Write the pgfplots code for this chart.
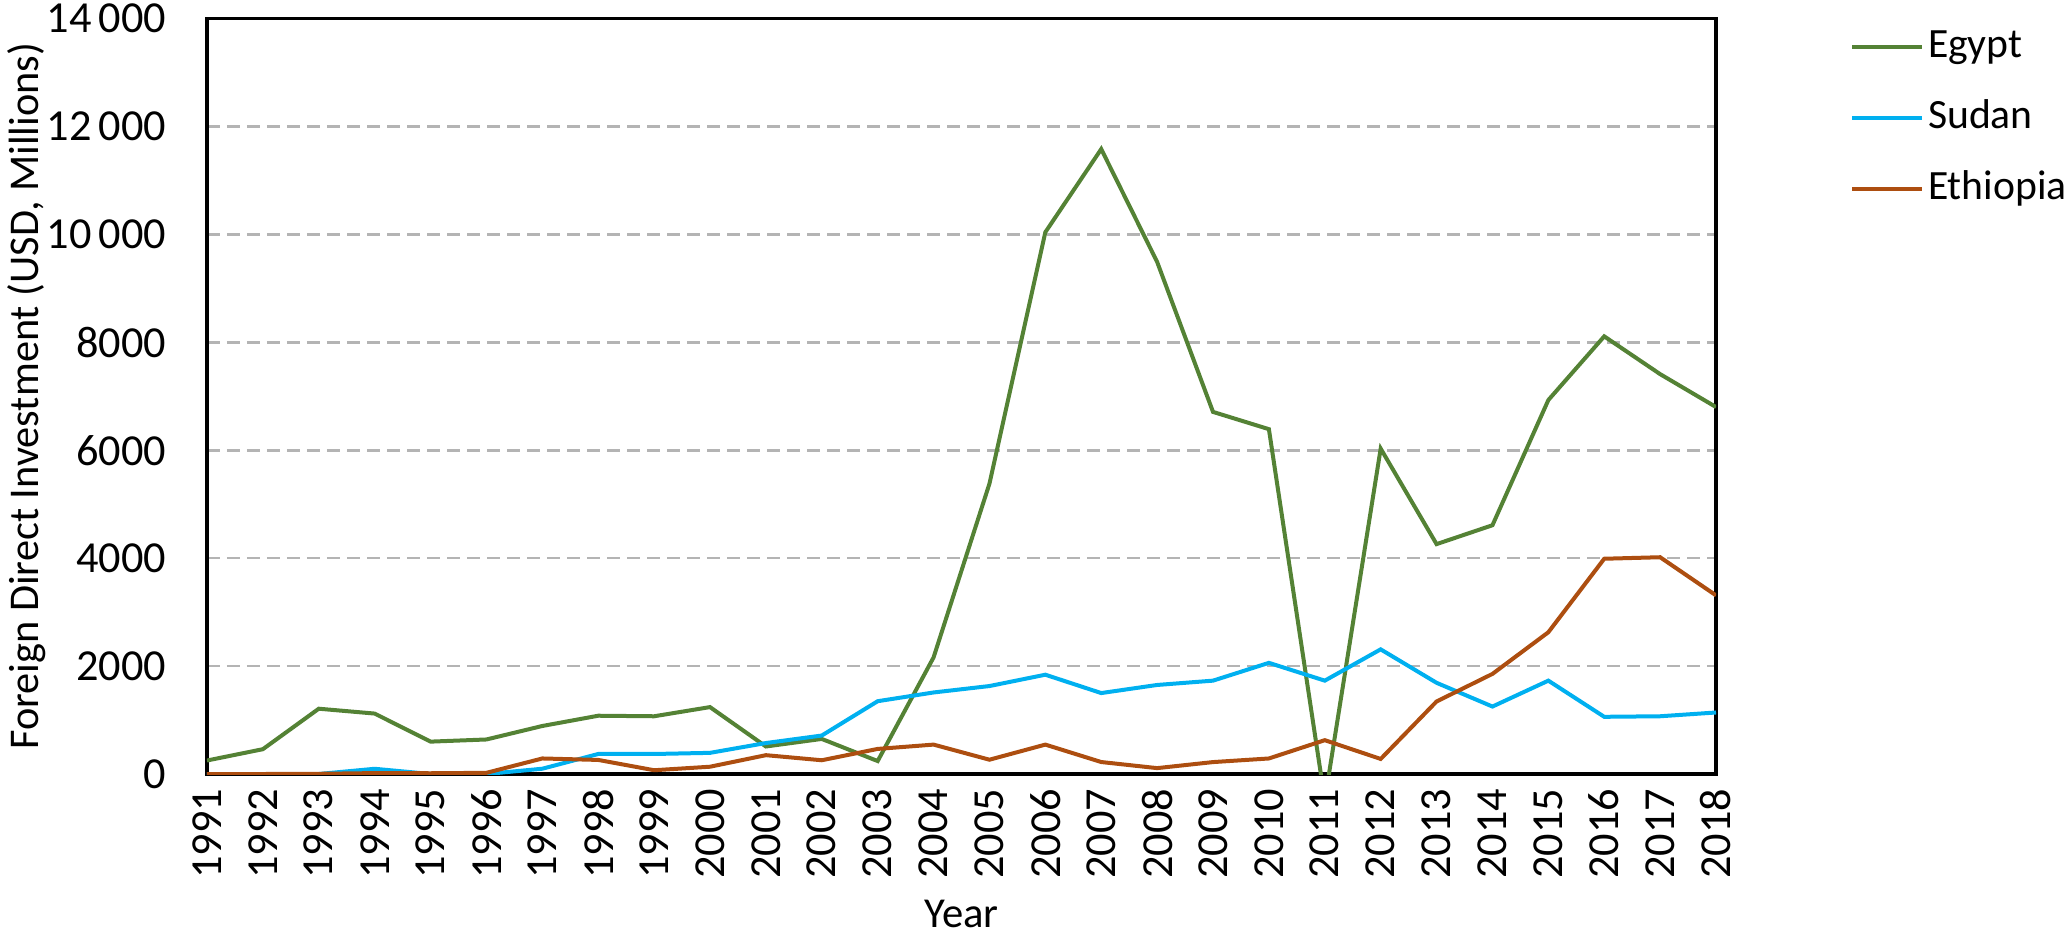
\documentclass[border=0pt]{standalone}
\usepackage{fontspec}
\setmainfont{Carlito}
\usepackage{pgfplots}
\usepackage{pgfplotstable}
\pgfplotsset{compat=1.18}
\definecolor{egy}{HTML}{548235}
\definecolor{sud}{HTML}{00B0F0}
\definecolor{eth}{HTML}{AD4E10}
\definecolor{gridc}{HTML}{B4B4B4}
\pgfplotstableread{
year egypt sudan ethiopia
1991 250 0 0
1992 460 0 0
1993 1210 0 4
1994 1120 97 17
1995 600 0 14
1996 640 0 22
1997 890 98 288
1998 1080 371 261
1999 1070 371 70
2000 1240 392 135
2001 510 574 349
2002 650 713 255
2003 240 1349 465
2004 2160 1511 545
2005 5380 1630 265
2006 10040 1840 545
2007 11580 1500 222
2008 9490 1650 109
2009 6710 1730 221
2010 6390 2060 288
2011 -483 1730 627
2012 6030 2310 279
2013 4260 1690 1344
2014 4610 1250 1855
2015 6930 1730 2627
2016 8110 1060 3989
2017 7410 1070 4017
2018 6800 1140 3310
}\fdi
\begin{document}
\begin{tikzpicture}
\begin{axis}[
  scale only axis,
  width=452.7pt, height=226.65pt,
  xmin=1991, xmax=2018, ymin=0, ymax=14000,
  xtick={1991,...,2018},
  ytick={0,2000,...,14000},
  yticklabels={0,2000,4000,6000,8000,10\,000,12\,000,14\,000},
  xticklabel={\pgfmathprintnumber[fixed,1000 sep={}]{\tick}},
  /pgf/number format/assume math mode=true,
  major tick length=0pt,
  tick style={draw=none},
  axis line style={black, line width=1.1pt},
  ymajorgrids,
  major grid style={gridc, line width=0.8pt, dash pattern=on 4pt off 2pt},
  tick label style={font=\fontsize{13.3}{15}\selectfont},
  xticklabel style={rotate=90, anchor=east, inner sep=0pt},
  xticklabel shift=4.2pt,
  yticklabel style={anchor=east, inner sep=0pt},
  yticklabel shift=12pt,
  xlabel={Year},
  ylabel={Foreign Direct Investment (USD, Millions)},
  every axis x label/.style={at={(axis description cs:0.5,0)}, anchor=center, yshift=-42pt, font=\fontsize{12.8}{15}\selectfont},
  every axis y label/.style={at={(axis description cs:0,0.5)}, anchor=center, xshift=-54pt, rotate=90, font=\fontsize{12.7}{15}\selectfont},
  legend style={at={(axis description cs:1,1)}, anchor=north west, xshift=40pt, yshift=-2.4pt,
    draw=none, fill=none, inner sep=0pt, row sep=9.3pt,
    font=\fontsize{12.5}{15}\selectfont,
    nodes={inner xsep=1.2pt, inner ysep=0pt, text height=9pt, text depth=3pt}},
  legend cell align=left,
  legend image code/.code={\draw[#1] (0pt,0pt) -- (21pt,0pt);},
  clip=true,
]
\addplot[egy, line width=1.2pt] table[x=year,y=egypt] {\fdi};
\addlegendentry{Egypt}
\addplot[sud, line width=1.2pt] table[x=year,y=sudan] {\fdi};
\addlegendentry{Sudan}
\addplot[eth, line width=1.2pt] table[x=year,y=ethiopia] {\fdi};
\addlegendentry{Ethiopia}
\coordinate (bl) at (rel axis cs:0,0);
\coordinate (tr) at (rel axis cs:1,1);
\end{axis}
\pgfresetboundingbox
\path ([xshift=-62.1pt, yshift=-49.2pt]bl) rectangle ([xshift=105.3pt, yshift=5.55pt]tr);
\end{tikzpicture}
\end{document}
